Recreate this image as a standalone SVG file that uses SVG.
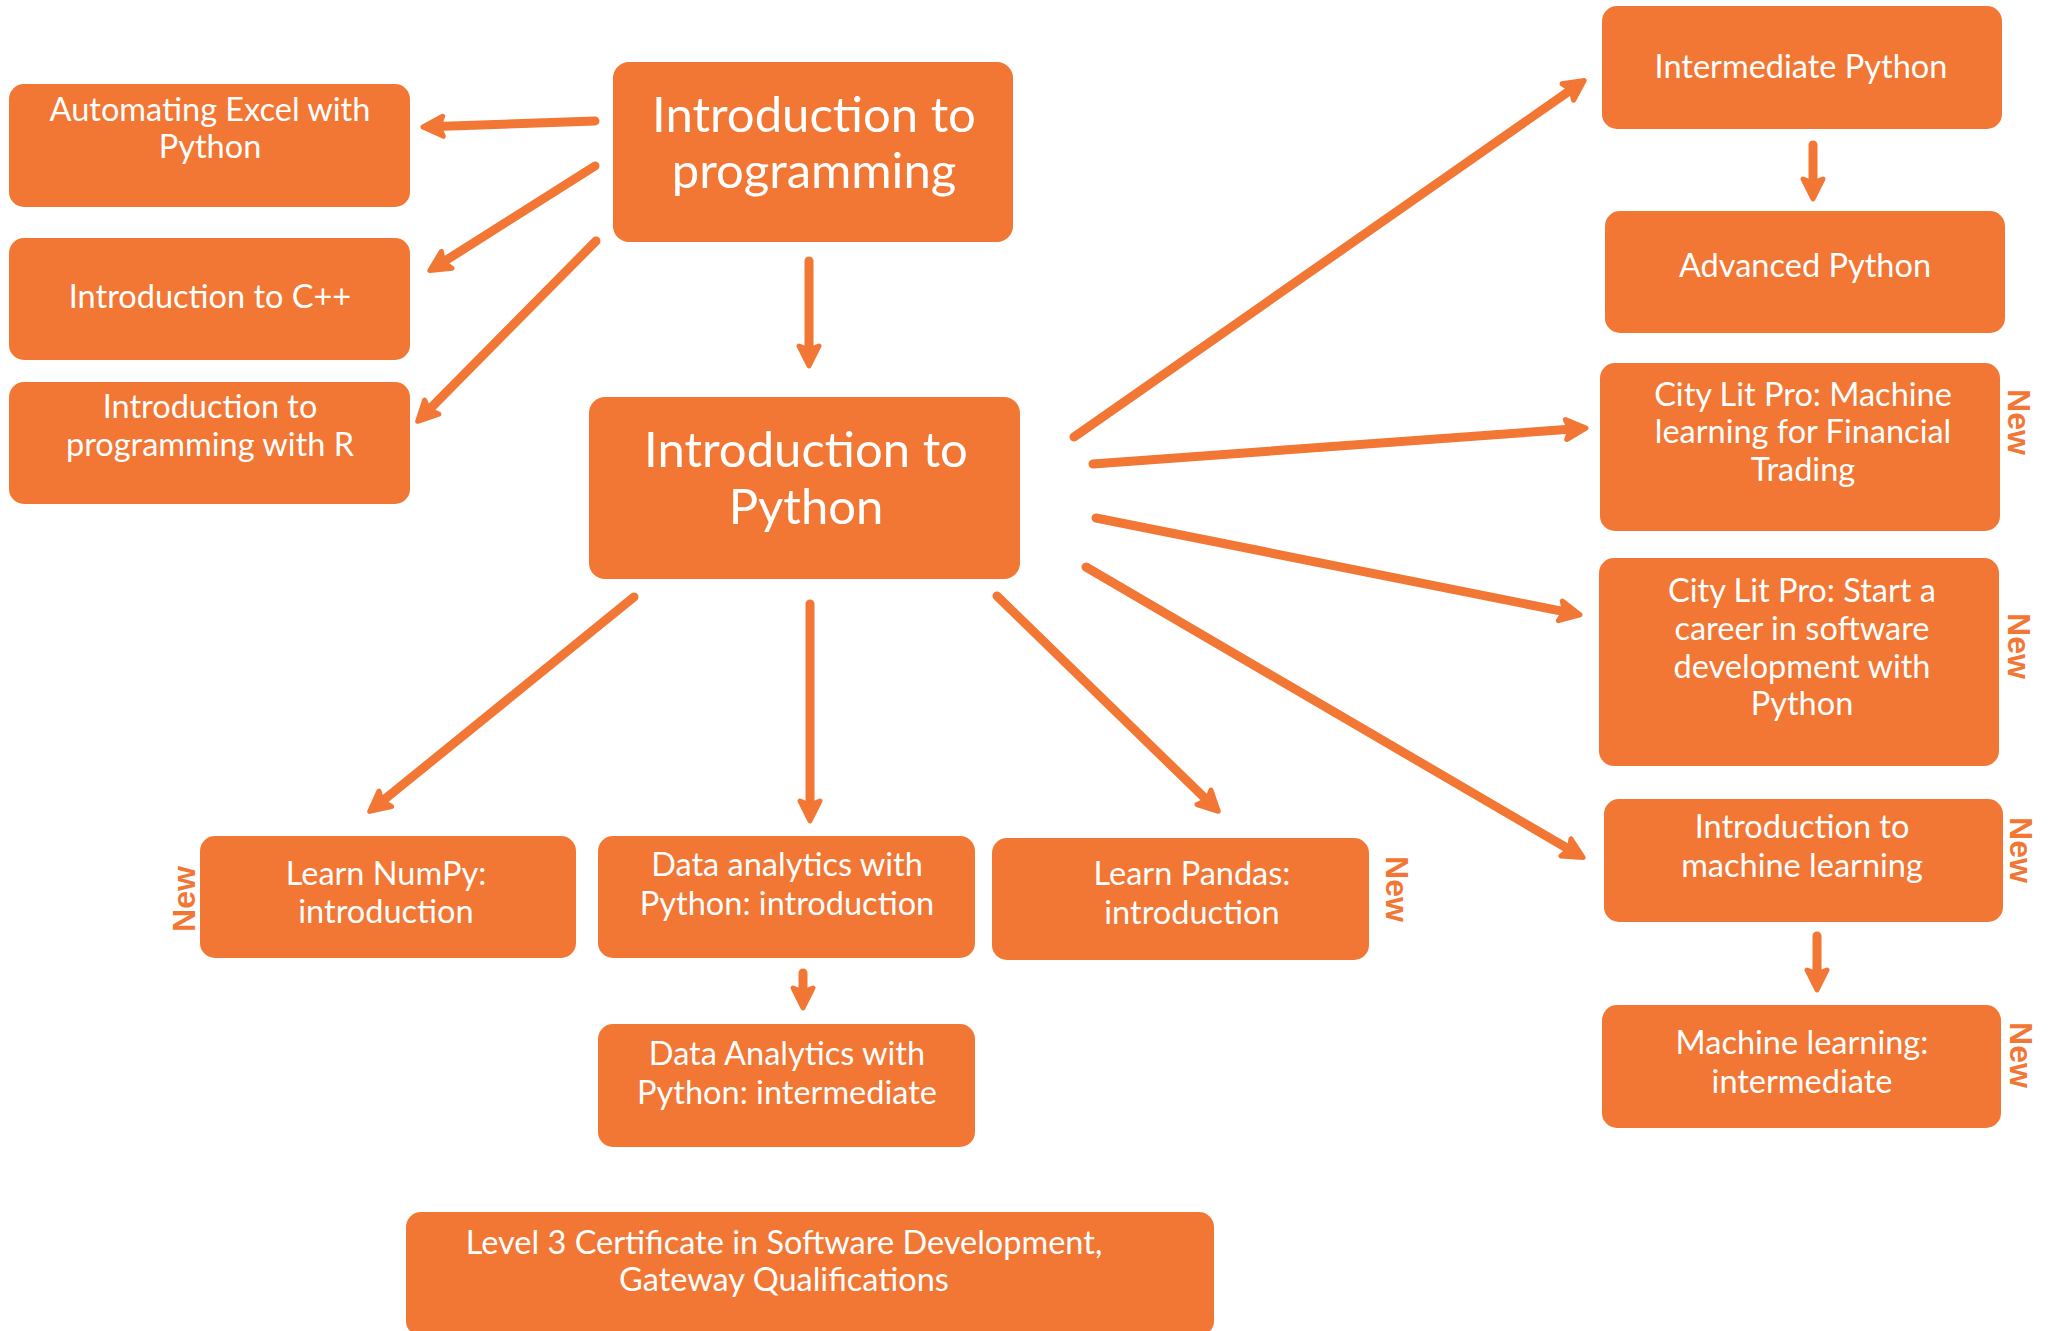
<svg xmlns="http://www.w3.org/2000/svg" width="2053" height="1331" viewBox="0 0 2053 1331">
<style>
.box{fill:#F27634;}
.t{font-family:Lato,"Liberation Sans",sans-serif;fill:#FFFFFF;font-size:32.5px;text-anchor:middle;}
.big{font-size:49px;}
.new{font-family:"Liberation Sans",Arial,sans-serif;font-weight:bold;fill:#F27634;font-size:32px;text-anchor:middle;}
.c{stroke:#F27634;stroke-width:9;stroke-linecap:round;fill:none;marker-end:url(#ah);}
</style>
<defs>
<marker id="ah" markerUnits="userSpaceOnUse" viewBox="-20 -16 30 32" markerWidth="30" markerHeight="32" refX="0" refY="0" orient="auto" overflow="visible">
<path d="M6,0 L-14,-10 L-10,0 L-14,10 Z" fill="#F27634" stroke="#F27634" stroke-width="5" stroke-linejoin="round"/>
</marker>
</defs>
<rect width="2053" height="1331" fill="#FFFFFF"/>
<g id="connectors">
<line class="c" x1="595" y1="121" x2="429" y2="126.8"/>
<line class="c" x1="595" y1="166" x2="434.9" y2="267.3"/>
<line class="c" x1="596" y1="241" x2="421.9" y2="417"/>
<line class="c" x1="809" y1="261" x2="809" y2="360"/>
<line class="c" x1="1074" y1="437" x2="1579.3" y2="84"/>
<line class="c" x1="1093" y1="464" x2="1580" y2="428.5"/>
<line class="c" x1="1096" y1="518" x2="1574.1" y2="613.6"/>
<line class="c" x1="1086" y1="567" x2="1578" y2="854.5"/>
<line class="c" x1="634" y1="597" x2="374.4" y2="807.6"/>
<line class="c" x1="810" y1="604" x2="810" y2="815"/>
<line class="c" x1="997" y1="596" x2="1214" y2="807.1"/>
<line class="c" x1="1813" y1="145" x2="1813" y2="193"/>
<line class="c" x1="1817" y1="936" x2="1817" y2="984"/>
<line class="c" x1="803" y1="973" x2="803" y2="1002"/>
</g>
<g id="n-prog"><rect class="box" x="613" y="62" width="400" height="180" rx="16"/><text class="t big" x="814" y="132">Introduction to</text><text class="t big" x="814" y="188">programming</text></g>
<g id="n-excel"><rect class="box" x="9" y="84" width="401" height="123" rx="15"/><text class="t" x="210" y="121">Automating Excel with</text><text class="t" x="210" y="158">Python</text></g>
<g id="n-cpp"><rect class="box" x="9" y="238" width="401" height="122" rx="15"/><text class="t" x="210" y="308">Introduction to C++</text></g>
<g id="n-r"><rect class="box" x="9" y="382" width="401" height="122" rx="15"/><text class="t" x="210" y="418">Introduction to</text><text class="t" x="210" y="456">programming with R</text></g>
<g id="n-python"><rect class="box" x="589" y="397" width="431" height="182" rx="16"/><text class="t big" x="806" y="467">Introduction to</text><text class="t big" x="806" y="524">Python</text></g>
<g id="n-int-py"><rect class="box" x="1602" y="6" width="400" height="123" rx="15"/><text class="t" x="1801" y="78">Intermediate Python</text></g>
<g id="n-adv-py"><rect class="box" x="1605" y="211" width="400" height="122" rx="15"/><text class="t" x="1805" y="277">Advanced Python</text></g>
<g id="n-clp-ml"><rect class="box" x="1600" y="363" width="400" height="168" rx="15"/><text class="t" x="1803" y="406">City Lit Pro: Machine</text><text class="t" x="1803" y="443">learning for Financial</text><text class="t" x="1803" y="481">Trading</text><text class="new" transform="translate(2008,422) rotate(90)">New</text></g>
<g id="n-clp-sd"><rect class="box" x="1599" y="558" width="400" height="208" rx="15"/><text class="t" x="1802" y="602">City Lit Pro: Start a</text><text class="t" x="1802" y="640">career in software</text><text class="t" x="1802" y="678">development with</text><text class="t" x="1802" y="715">Python</text><text class="new" transform="translate(2008,646) rotate(90)">New</text></g>
<g id="n-intro-ml"><rect class="box" x="1604" y="799" width="399" height="123" rx="15"/><text class="t" x="1802" y="838">Introduction to</text><text class="t" x="1802" y="877">machine learning</text><text class="new" transform="translate(2010,850) rotate(90)">New</text></g>
<g id="n-ml-int"><rect class="box" x="1602" y="1005" width="399" height="123" rx="15"/><text class="t" x="1802" y="1054">Machine learning:</text><text class="t" x="1802" y="1093">intermediate</text><text class="new" transform="translate(2010,1055) rotate(90)">New</text></g>
<g id="n-numpy"><rect class="box" x="200" y="836" width="376" height="122" rx="15"/><text class="t" x="386" y="885">Learn NumPy:</text><text class="t" x="386" y="923">introduction</text><text class="new" transform="translate(195,899) rotate(-90)">New</text></g>
<g id="n-da-intro"><rect class="box" x="598" y="836" width="377" height="122" rx="15"/><text class="t" x="787" y="876">Data analytics with</text><text class="t" x="787" y="915">Python: introduction</text></g>
<g id="n-pandas"><rect class="box" x="992" y="838" width="377" height="122" rx="15"/><text class="t" x="1192" y="885">Learn Pandas:</text><text class="t" x="1192" y="924">introduction</text><text class="new" transform="translate(1386,889) rotate(90)">New</text></g>
<g id="n-da-int"><rect class="box" x="598" y="1024" width="377" height="123" rx="15"/><text class="t" x="787" y="1065">Data Analytics with</text><text class="t" x="787" y="1104">Python: intermediate</text></g>
<g id="n-level3"><rect class="box" x="406" y="1212" width="808" height="124" rx="15"/><text class="t" x="784" y="1254">Level 3 Certificate in Software Development,</text><text class="t" x="784" y="1291">Gateway Qualifications</text></g>
</svg>
